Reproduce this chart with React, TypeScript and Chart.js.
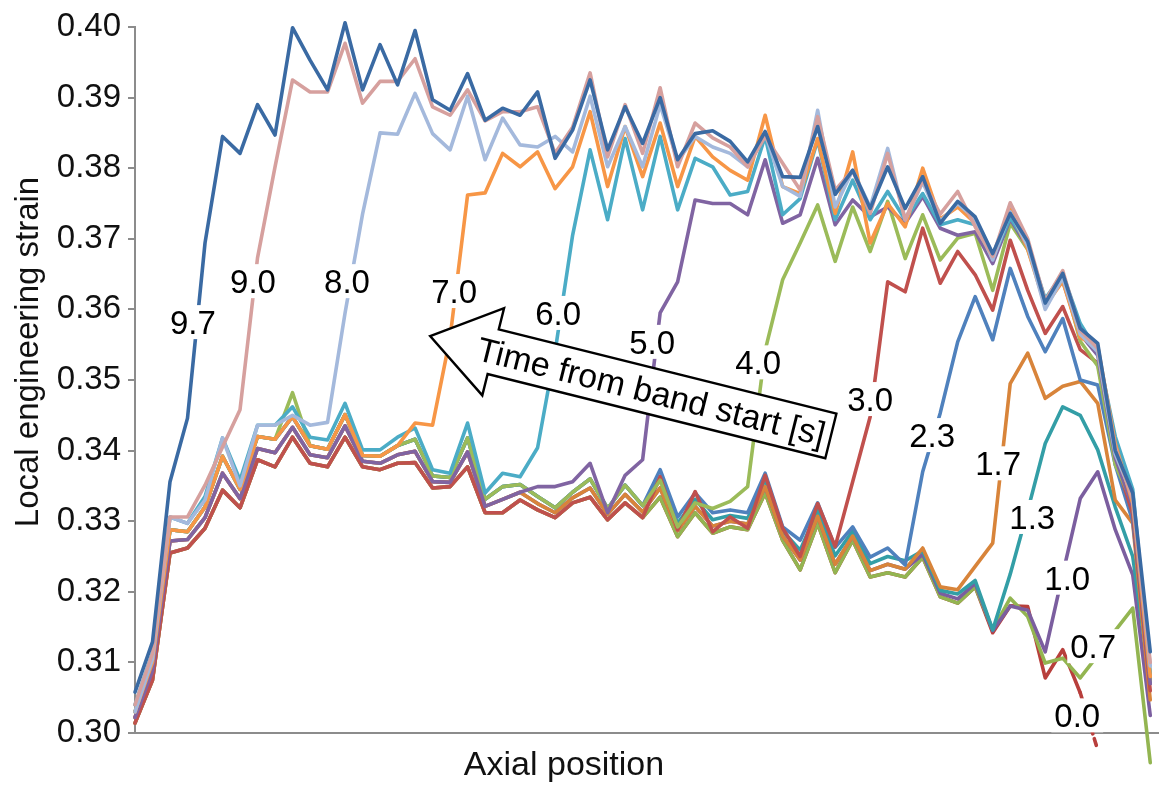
import React, { useEffect, useRef } from 'react';
import { Chart, registerables } from 'chart.js';

Chart.register(...registerables);

// ---------- data ----------
const axialIndex = Array.from({ length: 59 }, (_, i) => i);
const yTickValues = [0.30, 0.31, 0.32, 0.33, 0.34, 0.35, 0.36, 0.37, 0.38, 0.39, 0.40];

// pre-band (lower) bundle, read at its top edge (A) down to its bottom edge (D)
const lowA = [0.3040, 0.3113, 0.3306, 0.3297, 0.3335, 0.3418, 0.3358, 0.3436, 0.3436, 0.3462,
  0.3419, 0.3415, 0.3467, 0.3401, 0.3401, 0.3419, 0.3432, 0.3373, 0.3368, 0.3439,
  0.3340, 0.3368, 0.3363, 0.3344, 0.3326, 0.3348, 0.3373, 0.3326, 0.3363, 0.3330,
  0.3373, 0.3306, 0.3340, 0.3312, 0.3316, 0.3312, 0.3368, 0.3292, 0.3273, 0.3326,
  0.3263, 0.3292, 0.3249, 0.3262, 0.3255, 0.3262, 0.3207, 0.3203, 0.3221, 0.3150,
  0.3191, 0.3178];
const lowB = [0.3030, 0.3100, 0.3288, 0.3285, 0.3320, 0.3392, 0.3345, 0.3420, 0.3416, 0.3448,
  0.3407, 0.3402, 0.3451, 0.3393, 0.3392, 0.3407, 0.3416, 0.3364, 0.3362, 0.3418,
  0.3331, 0.3349, 0.3352, 0.3335, 0.3319, 0.3341, 0.3360, 0.3318, 0.3351, 0.3322,
  0.3360, 0.3297, 0.3331, 0.3302, 0.3308, 0.3304, 0.3359, 0.3286, 0.3259, 0.3316,
  0.3251, 0.3286, 0.3240, 0.3250, 0.3244, 0.3258, 0.3202, 0.3197, 0.3216, 0.3147,
  0.3185, 0.3173];
const lowC = [0.3022, 0.3088, 0.3272, 0.3274, 0.3305, 0.3368, 0.3332, 0.3403, 0.3397, 0.3433,
  0.3394, 0.3390, 0.3435, 0.3385, 0.3382, 0.3394, 0.3399, 0.3356, 0.3355, 0.3398,
  0.3321, 0.3331, 0.3341, 0.3325, 0.3312, 0.3333, 0.3347, 0.3310, 0.3338, 0.3313,
  0.3347, 0.3287, 0.3321, 0.3293, 0.3300, 0.3296, 0.3349, 0.3279, 0.3245, 0.3307,
  0.3239, 0.3279, 0.3230, 0.3239, 0.3232, 0.3253, 0.3198, 0.3190, 0.3212, 0.3145,
  0.3180, 0.3169];
const lowD = [0.3014, 0.3075, 0.3255, 0.3262, 0.3290, 0.3344, 0.3319, 0.3387, 0.3377, 0.3419,
  0.3382, 0.3377, 0.3419, 0.3377, 0.3373, 0.3382, 0.3383, 0.3347, 0.3349, 0.3377,
  0.3312, 0.3312, 0.3330, 0.3316, 0.3305, 0.3326, 0.3334, 0.3302, 0.3326, 0.3305,
  0.3334, 0.3278, 0.3312, 0.3283, 0.3292, 0.3288, 0.3340, 0.3273, 0.3231, 0.3297,
  0.3227, 0.3273, 0.3221, 0.3227, 0.3221, 0.3249, 0.3193, 0.3184, 0.3207, 0.3142,
  0.3174, 0.3164];

const s97 = [0.3058, 0.3129, 0.3356, 0.3446, 0.3694, 0.3845, 0.3821, 0.3890, 0.3847, 0.3999,
  0.3953, 0.3911, 0.4006, 0.3911, 0.3975, 0.3918, 0.3995, 0.3897, 0.3882, 0.3934,
  0.3868, 0.3885, 0.3875, 0.3908, 0.3814, 0.3854, 0.3925, 0.3826, 0.3887, 0.3835,
  0.3900, 0.3812, 0.3849, 0.3853, 0.3838, 0.3809, 0.3852, 0.3788, 0.3787, 0.3859,
  0.3763, 0.3797, 0.3743, 0.3802, 0.3743, 0.3788, 0.3722, 0.3753, 0.3731, 0.3679,
  0.3736, 0.3696, 0.3609, 0.3651, 0.3573, 0.3552, 0.3400, 0.3340, 0.3115];
const s90 = [0.3040, 0.3113, 0.3306, 0.3306, 0.3351, 0.3405, 0.3458, 0.3673, 0.3802, 0.3925,
  0.3908, 0.3908, 0.3977, 0.3892, 0.3923, 0.3923, 0.3955, 0.3887, 0.3875, 0.3911,
  0.3867, 0.3880, 0.3880, 0.3887, 0.3821, 0.3858, 0.3935, 0.3816, 0.3890, 0.3821,
  0.3914, 0.3802, 0.3864, 0.3843, 0.3830, 0.3802, 0.3845, 0.3807, 0.3769, 0.3873,
  0.3769, 0.3797, 0.3736, 0.3821, 0.3727, 0.3783, 0.3735, 0.3767, 0.3717, 0.3675,
  0.3751, 0.3700, 0.3612, 0.3655, 0.3570, 0.3545, 0.3405, 0.3330, 0.3100];
const s80 = [0.3030, 0.3105, 0.3306, 0.3297, 0.3330, 0.3418, 0.3350, 0.3436, 0.3436, 0.3450,
  0.3436, 0.3440, 0.3595, 0.3735, 0.3850, 0.3848, 0.3906, 0.3849, 0.3826, 0.3902,
  0.3812, 0.3871, 0.3833, 0.3830, 0.3845, 0.3823, 0.3902, 0.3802, 0.3859, 0.3802,
  0.3890, 0.3810, 0.3845, 0.3830, 0.3821, 0.3802, 0.3849, 0.3774, 0.3760, 0.3882,
  0.3745, 0.3797, 0.3745, 0.3828, 0.3727, 0.3780, 0.3725, 0.3750, 0.3728, 0.3670,
  0.3738, 0.3690, 0.3600, 0.3645, 0.3565, 0.3540, 0.3395, 0.3335, 0.3095];
const s70 = [...lowB.slice(0, 16),
  0.3439, 0.3436, 0.3560, 0.3762, 0.3765, 0.3821, 0.3802, 0.3823, 0.3771, 0.3802,
  0.3880, 0.3774, 0.3859, 0.3788, 0.3864, 0.3774, 0.3845, 0.3816, 0.3797, 0.3783,
  0.3875, 0.3774, 0.3764, 0.3842, 0.3736, 0.3823, 0.3694, 0.3750, 0.3717, 0.3800,
  0.3728, 0.3745, 0.3722, 0.3672, 0.3742, 0.3685, 0.3605, 0.3640, 0.3560, 0.3548,
  0.3410, 0.3325, 0.3080];
const s60 = [...lowA.slice(0, 23),
  0.3404, 0.3540, 0.3705, 0.3826, 0.3727, 0.3842, 0.3741,
  0.3845, 0.3741, 0.3814, 0.3802, 0.3762, 0.3767, 0.3845, 0.3734, 0.3757, 0.3840,
  0.3727, 0.3783, 0.3727, 0.3767, 0.3727, 0.3764, 0.3720, 0.3727, 0.3720, 0.3672,
  0.3730, 0.3692, 0.3615, 0.3650, 0.3580, 0.3540, 0.3420, 0.3345, 0.3085];
const s50 = [...lowC.slice(0, 23),
  0.3349, 0.3349, 0.3356, 0.3382, 0.3312, 0.3365, 0.3387,
  0.3595, 0.3639, 0.3755, 0.3750, 0.3750, 0.3734, 0.3812, 0.3722, 0.3734, 0.3814,
  0.3720, 0.3755, 0.3731, 0.3745, 0.3722, 0.3760, 0.3715, 0.3705, 0.3710, 0.3665,
  0.3728, 0.3688, 0.3610, 0.3640, 0.3565, 0.3535, 0.3390, 0.3320, 0.3070];
const s40 = [...lowB.slice(0, 9), 0.3482, ...lowB.slice(10, 30),
  0.3358, 0.3292, 0.3326, 0.3318, 0.3328, 0.3349, 0.3542, 0.3642, 0.3694, 0.3748,
  0.3668, 0.3745, 0.3682, 0.3753, 0.3672, 0.3734, 0.3670, 0.3701, 0.3708, 0.3627,
  0.3722, 0.3685, 0.3613, 0.3648, 0.3555, 0.3520, 0.3380, 0.3325, 0.3075];
const s30 = [...lowD.slice(0, 30),
  0.3363, 0.3288, 0.3342, 0.3285, 0.3306, 0.3290, 0.3365, 0.3290, 0.3250, 0.3325,
  0.3264, 0.3356, 0.3448, 0.3639, 0.3625, 0.3715, 0.3637, 0.3682, 0.3649, 0.3599,
  0.3698, 0.3627, 0.3566, 0.3604, 0.3543, 0.3524, 0.3390, 0.3310, 0.3060];
const s23 = [...lowB.slice(0, 30), ...lowA.slice(30, 44),
  0.3238, 0.3370, 0.3453, 0.3554, 0.3618, 0.3557,
  0.3658, 0.3590, 0.3540, 0.3587, 0.3500, 0.3493, 0.3380, 0.3300, 0.3080];
const s17 = [...lowC.slice(0, 45),
  0.3262, 0.3207, 0.3203, 0.3236, 0.3269,
  0.3495, 0.3538, 0.3474, 0.3491, 0.3498, 0.3467, 0.3330, 0.3297, 0.3047];
const s13 = [...lowB.slice(0, 49),
  0.3146, 0.3225, 0.3315, 0.3410, 0.3462, 0.3450, 0.3401, 0.3320, 0.3250, 0.3070];
const s10 = [...lowC.slice(0, 51),
  0.3174, 0.3115, 0.3225, 0.3332, 0.3370, 0.3288, 0.3224, 0.3025];
const s07 = [...lowD.slice(0, 49),
  0.3146, 0.3191, 0.3165, 0.3099, 0.3106, 0.3078, 0.3110, 0.3145, 0.3177, 0.2958];
const s00 = [...lowD.slice(0, 50),
  0.3180, 0.3179, 0.3078, 0.3118, 0.3057, 0.2976];

const seriesNames = ['9.7', '9.0', '8.0', '7.0', '6.0', '5.0', '4.0', '3.0', '2.3', '1.7', '1.3', '1.0', '0.7', '0.0'];
const seriesValues = [s97, s90, s80, s70, s60, s50, s40, s30, s23, s17, s13, s10, s07, s00];
const seriesColors = ['#3a6aa3', '#d6a09e', '#a4b9dc', '#f79646', '#4bacc6', '#8064a2', '#9bbb59',
  '#c0504d', '#4f81bd', '#d8843a', '#339ea6', '#7b5e9f', '#93b551', '#b83f3c'];
// label anchor for each series, in (axial index, strain) units
const labelIndex = [3.31, 6.74, 12.11, 18.23, 24.17, 29.54, 35.6, 42.0, 45.54, 49.31, 51.26, 53.26, 54.74, 53.83];
const labelStrain = [0.3582, 0.3640, 0.3640, 0.3626, 0.3595, 0.3554, 0.3525, 0.3473, 0.3422, 0.3382, 0.3306, 0.3220, 0.3123, 0.3025];

const arrowText = 'Time from band start [s]';
const arrowTip = [16.86, 0.35623];

const FONT = '"Liberation Sans", Arial, Helvetica, sans-serif';

const overlayPlugin = {
  id: 'overlay',
  afterDatasetsDraw(chart: any) {
    const { ctx, scales } = chart;
    const xs = scales.x, ys = scales.y;
    ctx.save();
    // arrow
    const tx = xs.getPixelForValue(arrowTip[0]);
    const ty = ys.getPixelForValue(arrowTip[1]);
    ctx.translate(tx, ty);
    ctx.rotate((14 * Math.PI) / 180);
    ctx.beginPath();
    ctx.moveTo(0, 0);
    ctx.lineTo(65, -45);
    ctx.lineTo(65, -23);
    ctx.lineTo(413, -23);
    ctx.lineTo(413, 23);
    ctx.lineTo(65, 23);
    ctx.lineTo(65, 45);
    ctx.closePath();
    ctx.fillStyle = '#ffffff';
    ctx.fill();
    ctx.lineWidth = 2.4;
    ctx.lineJoin = 'miter';
    ctx.strokeStyle = '#000000';
    ctx.stroke();
    ctx.font = `34px ${FONT}`;
    ctx.fillStyle = '#000000';
    ctx.textAlign = 'center';
    ctx.textBaseline = 'alphabetic';
    ctx.fillText(arrowText, 228, 12);
    ctx.restore();

    // series labels
    ctx.save();
    ctx.font = `33px ${FONT}`;
    ctx.textAlign = 'center';
    ctx.textBaseline = 'alphabetic';
    seriesNames.forEach((name, k) => {
      const px = xs.getPixelForValue(labelIndex[k]);
      const py = ys.getPixelForValue(labelStrain[k]);
      const w = ctx.measureText(name).width;
      ctx.fillStyle = '#ffffff';
      ctx.fillRect(px - w / 2 - 3, py - 17, w + 6, 34);
      ctx.fillStyle = '#000000';
      ctx.fillText(name, px, py + 12);
    });
    ctx.restore();
  },
  afterDraw(chart: any) {
    const { ctx } = chart;
    ctx.save();
    ctx.fillStyle = '#111111';
    ctx.font = `33px ${FONT}`;
    ctx.textAlign = 'center';
    ctx.textBaseline = 'middle';
    ctx.translate(29, 352);
    ctx.rotate(-Math.PI / 2);
    ctx.fillText('Local engineering strain', 0, 0);
    ctx.restore();
    ctx.save();
    ctx.fillStyle = '#111111';
    ctx.font = `34px ${FONT}`;
    ctx.textAlign = 'center';
    ctx.textBaseline = 'alphabetic';
    ctx.fillText('Axial position', 564, 775);
    ctx.restore();
  },
};

export default function App() {
  const canvasRef = useRef<HTMLCanvasElement | null>(null);

  useEffect(() => {
    document.body.style.margin = '0';
    const canvas = canvasRef.current;
    if (!canvas) return;
    Chart.defaults.font.family = FONT;

    const datasets = seriesNames.map((name, k) => ({
      label: name,
      data: seriesValues[k].map((v, i) => ({ x: axialIndex[i], y: v })),
      borderColor: seriesColors[k],
      backgroundColor: seriesColors[k],
      borderWidth: 3.6,
      pointRadius: 0,
      pointHoverRadius: 0,
      tension: 0,
      fill: false,
      clip: false,
      borderJoinStyle: 'round',
      borderCapStyle: 'round',
      segment: name === '0.0'
        ? { borderDash: (c: any) => (c.p1DataIndex >= 55 ? [7, 5] : undefined) }
        : undefined,
    }));

    const chart = new Chart(canvas, {
      type: 'line',
      data: { datasets },
      options: {
        responsive: false,
        animation: false,
        devicePixelRatio: 1,
        layout: { padding: { top: 27, right: 0, bottom: 0, left: 0 } },
        plugins: { legend: { display: false }, tooltip: { enabled: false }, title: { display: false } },
        events: [],
        scales: {
          x: {
            type: 'linear',
            min: 0,
            max: 58.5,
            bounds: 'data',
            ticks: { display: false },
            grid: { display: false, drawTicks: false },
            border: { display: true, color: '#8c8c8c', width: 2 },
            afterFit: (s: any) => { s.height = 61; },
          },
          y: {
            type: 'linear',
            min: 0.30,
            max: 0.40,
            afterBuildTicks: (s: any) => { s.ticks = yTickValues.map((v) => ({ value: v })); },
            ticks: {
              callback: (v: any) => Number(v).toFixed(2),
              font: { size: 33, family: FONT },
              color: '#111111',
              padding: 7,
            },
            grid: { display: true, drawOnChartArea: false, drawTicks: true, tickLength: 7, color: '#8c8c8c', lineWidth: 2 },
            border: { display: true, color: '#8c8c8c', width: 2 },
            afterFit: (s: any) => { s.width = 135; },
          },
        },
      },
      plugins: [overlayPlugin],
    } as any);

    return () => chart.destroy();
  }, []);

  return (
    <div style={{ width: 1159, height: 794, position: 'relative' }}>
      <canvas ref={canvasRef} width={1159} height={794} style={{ display: 'block' }} />
    </div>
  );
}
